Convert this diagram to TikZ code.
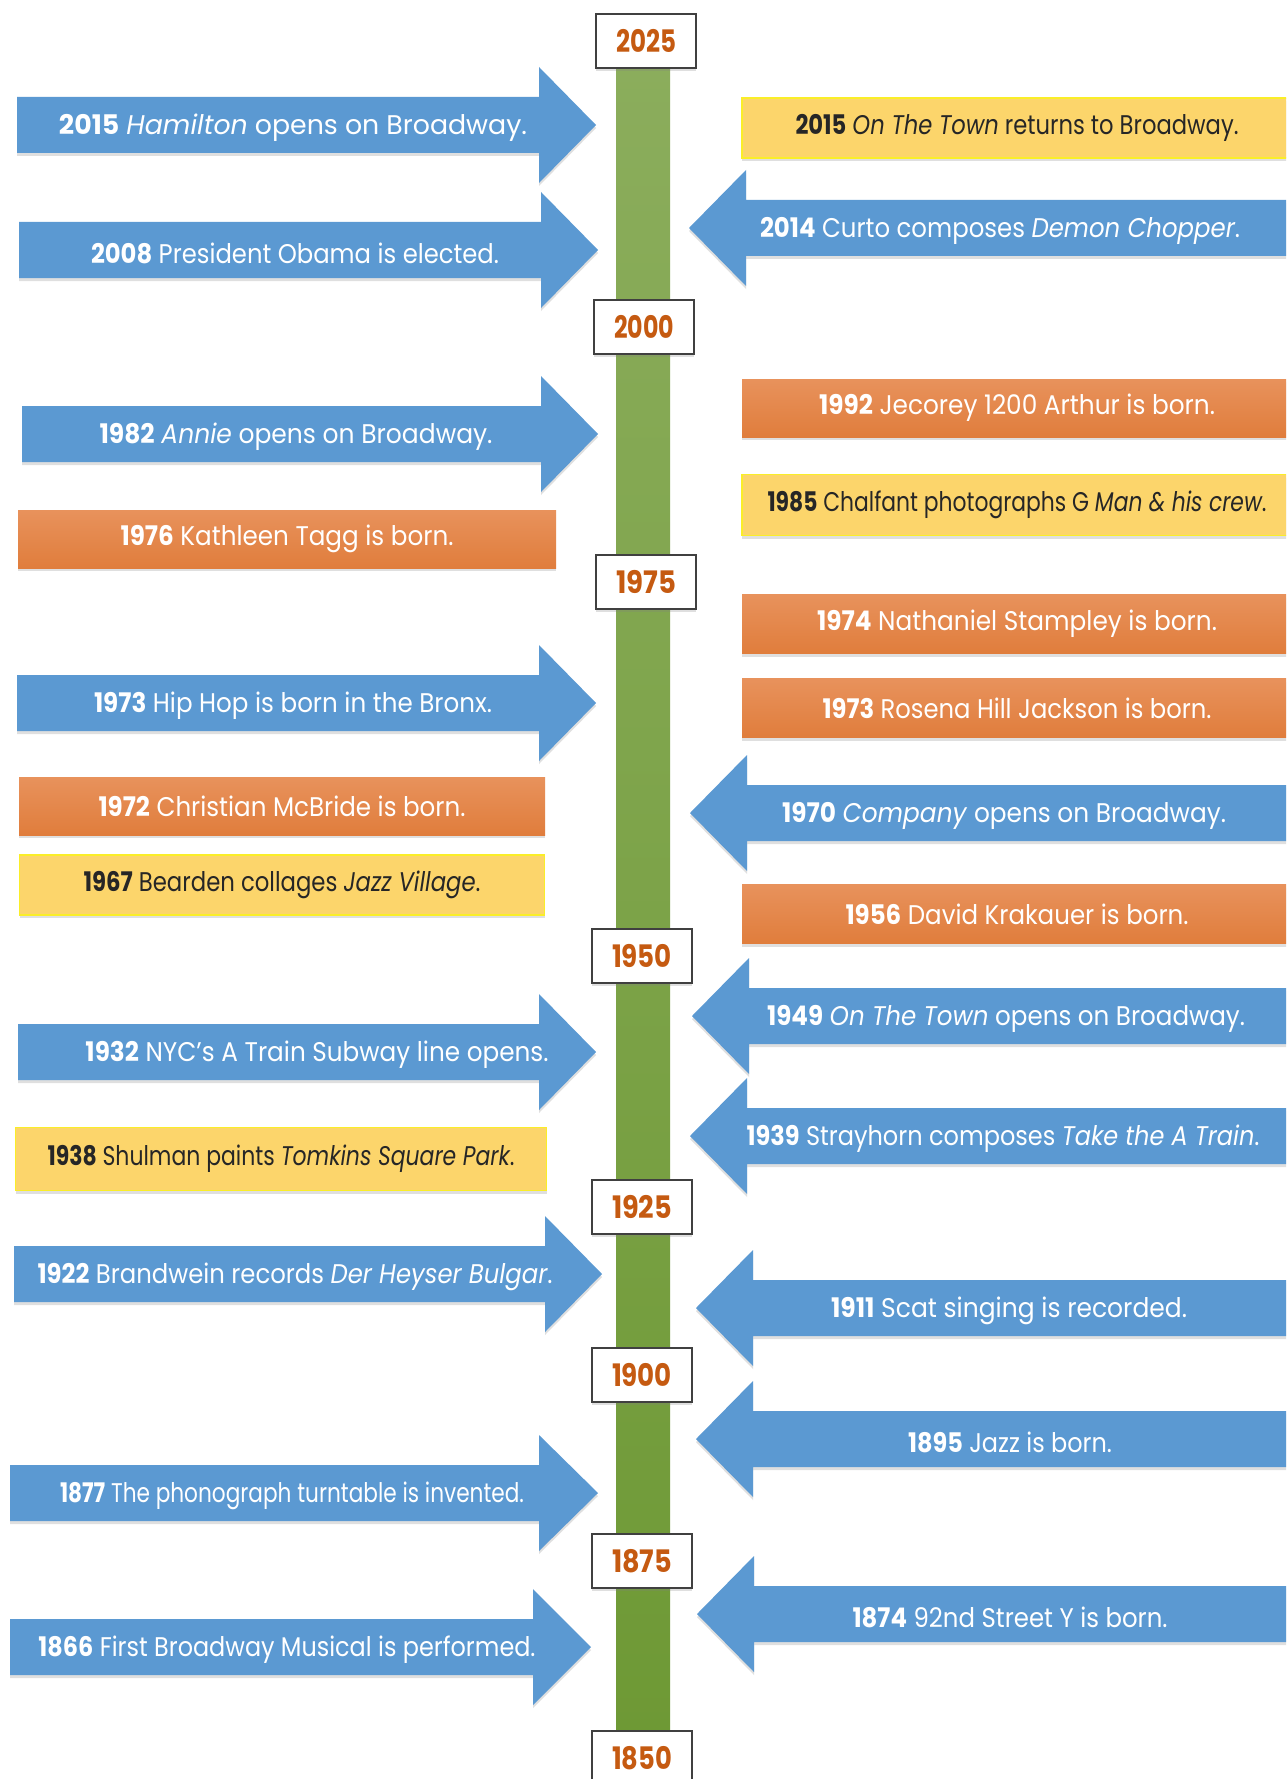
\documentclass[tikz,border=0pt]{standalone}
\usepackage{fontspec}
\usepackage{graphicx}
\setmainfont{Poppins}
\usetikzlibrary{shadows}

\definecolor{evblue}{RGB}{91,153,210}
\definecolor{evorange}{RGB}{224,125,60}
\definecolor{evorangetop}{RGB}{232,146,92}
\definecolor{evyellow}{RGB}{252,213,107}
\definecolor{evyellowline}{RGB}{250,238,40}
\definecolor{yeartext}{RGB}{197,90,17}
\definecolor{bartop}{RGB}{139,173,92}
\definecolor{barbottom}{RGB}{110,153,53}

% squeeze a text to a given width (in pt)
\newlength\fitwd
\newcommand\fitto[2]{\settowidth\fitwd{#2}\pgfmathsetmacro\fitx{#1/\fitwd}\scalebox{\fitx}[1]{#2}}

% arrow to the right: left end, head base, tip, middle
\newcommand\toright[4]{\fill[blueev] (#1,#4-28) -- (#2,#4-28) -- (#2,#4-58) -- (#3,#4) -- (#2,#4+58) -- (#2,#4+28) -- (#1,#4+28) -- cycle;}
% arrow to the left: tip, head base, middle
\newcommand\toleft[3]{\fill[blueev] (1300,#3-28) -- (#2,#3-28) -- (#2,#3-58) -- (#1,#3) -- (#2,#3+58) -- (#2,#3+28) -- (1300,#3+28) -- cycle;}

\begin{document}
\begin{tikzpicture}[x=1pt,y=-1pt,
  softshadow/.style={drop shadow={shadow xshift=0pt,shadow yshift=-3pt,opacity=0.25,fill=black!50}},
  blueev/.style={fill=evblue,softshadow},
  evtext/.style={inner sep=0pt,text=white,font=\fontsize{27}{32}\selectfont},
  plaintext/.style={evtext,yshift=-3pt},
  darktext/.style={evtext,text=black!85},
  orangebox/.style={evtext,shade,top color=evorangetop,bottom color=evorange,softshadow},
  yellowbox/.style={darktext,fill=evyellow,draw=evyellowline,line width=1.5pt,softshadow},
  yearbox/.style={draw=black!75,line width=1.2pt,fill=white,minimum width=100pt,minimum height=54pt,
    text=yeartext,font=\fontsize{31}{36}\selectfont\bfseries,softshadow}]

\clip (0,0) rectangle (1286,1779);
\fill[white] (0,0) rectangle (1286,1779);

% time line
\shade[top color=bartop,bottom color=barbottom] (616,60) rectangle (670,1740);
\foreach \yr/\xc/\yc in {2025/646/41,2000/644/327,1975/646/582,1950/642/956,
                         1925/642/1207,1900/642/1375,1875/642/1561,1850/642/1758}
  \node[yearbox] (y\yr) at (\xc,\yc) {\fitto{60}{\yr}};

% left side
\toright{17}{539}{596}{125}
\node[plaintext] (hamilton) at (293,125) {\fitto{468}{{\bfseries 2015} \textit{Hamilton} opens on Broadway.}};
\toright{19}{541}{598}{250}
\node[plaintext] (obama) at (295,250) {\fitto{408}{{\bfseries 2008} President Obama is elected.}};
\toright{22}{541}{598}{434}
\node[plaintext] (annie) at (296,434) {\fitto{393}{{\bfseries 1982} \textit{Annie} opens on Broadway.}};
\node[orangebox,minimum width=538pt,minimum height=58pt] (tagg) at (287,539) {\fitto{333}{{\bfseries 1976} Kathleen Tagg is born.}};
\toright{17}{539}{596}{703}
\node[plaintext] (hiphop) at (293,703) {\fitto{398}{{\bfseries 1973} Hip Hop is born in the Bronx.}};
\node[orangebox,minimum width=526pt,minimum height=58pt] (mcbride) at (282,806) {\fitto{367}{{\bfseries 1972} Christian McBride is born.}};
\node[yellowbox,minimum width=525pt,minimum height=60pt] (bearden) at (282,885) {\fitto{397}{{\bfseries 1967} Bearden collages \textit{Jazz Village}.}};
\toright{18}{539}{596}{1052}
\node[plaintext] (atrain) at (317,1052) {\fitto{463}{{\bfseries 1932} NYC’s A Train Subway line opens.}};
\node[yellowbox,minimum width=531pt,minimum height=63pt] (shulman) at (281,1159) {\fitto{467}{{\bfseries 1938} Shulman paints \textit{Tomkins Square Park}.}};
\toright{14}{545}{602}{1274}
\node[plaintext] (brandwein) at (295,1274) {\fitto{515}{{\bfseries 1922} Brandwein records \textit{Der Heyser Bulgar}.}};
\toright{10}{539}{598}{1493}
\node[plaintext] (phono) at (292,1493) {\fitto{464}{{\bfseries 1877} The phonograph turntable is invented.}};
\toright{10}{533}{591}{1647}
\node[plaintext] (musical) at (287,1647) {\fitto{497}{{\bfseries 1866} First Broadway Musical is performed.}};

% right side
\node[yellowbox,minimum width=550pt,minimum height=60pt] (ontown) at (1017,128) {\fitto{443}{{\bfseries 2015} \textit{On The Town} returns to Broadway.}};
\toleft{689}{746}{228}
\node[plaintext] (curto) at (1000,228) {\fitto{480}{{\bfseries 2014} Curto composes \textit{Demon Chopper}.}};
\node[orangebox,minimum width=550pt,minimum height=58pt] (arthur) at (1017,408) {\fitto{396}{{\bfseries 1992} Jecorey 1200 Arthur is born.}};
\node[yellowbox,minimum width=550pt,minimum height=61pt] (chalfant) at (1017,505) {\fitto{499}{{\bfseries 1985} Chalfant photographs G \textit{Man \& his crew}.}};
\node[orangebox,minimum width=550pt,minimum height=59pt] (stampley) at (1017,624) {\fitto{400}{{\bfseries 1974} Nathaniel Stampley is born.}};
\node[orangebox,minimum width=550pt,minimum height=59pt] (rosena) at (1017,708) {\fitto{389}{{\bfseries 1973} Rosena Hill Jackson is born.}};
\toleft{690}{747}{813}
\node[plaintext] (company) at (1004,813) {\fitto{444}{{\bfseries 1970} \textit{Company} opens on Broadway.}};
\node[orangebox,minimum width=550pt,minimum height=59pt] (krakauer) at (1017,914) {\fitto{343}{{\bfseries 1956} David Krakauer is born.}};
\toleft{692}{749}{1016}
\node[plaintext] (ontown49) at (1006,1016) {\fitto{478}{{\bfseries 1949} \textit{On The Town} opens on Broadway.}};
\toleft{690}{747}{1136}
\node[plaintext] (strayhorn) at (1003,1136) {\fitto{513}{{\bfseries 1939} Strayhorn composes \textit{Take the A Train}.}};
\toleft{696}{753}{1308}
\node[plaintext] (scat) at (1009,1308) {\fitto{356}{{\bfseries 1911} Scat singing is recorded.}};
\toleft{696}{753}{1439}
\node[plaintext] (jazz) at (1010,1439) {\fitto{204}{{\bfseries 1895} Jazz is born.}};
\toleft{697}{754}{1614}
\node[plaintext] (ystreet) at (1010,1614) {\fitto{315}{{\bfseries 1874} 92nd Street Y is born.}};

\end{tikzpicture}
\end{document}
